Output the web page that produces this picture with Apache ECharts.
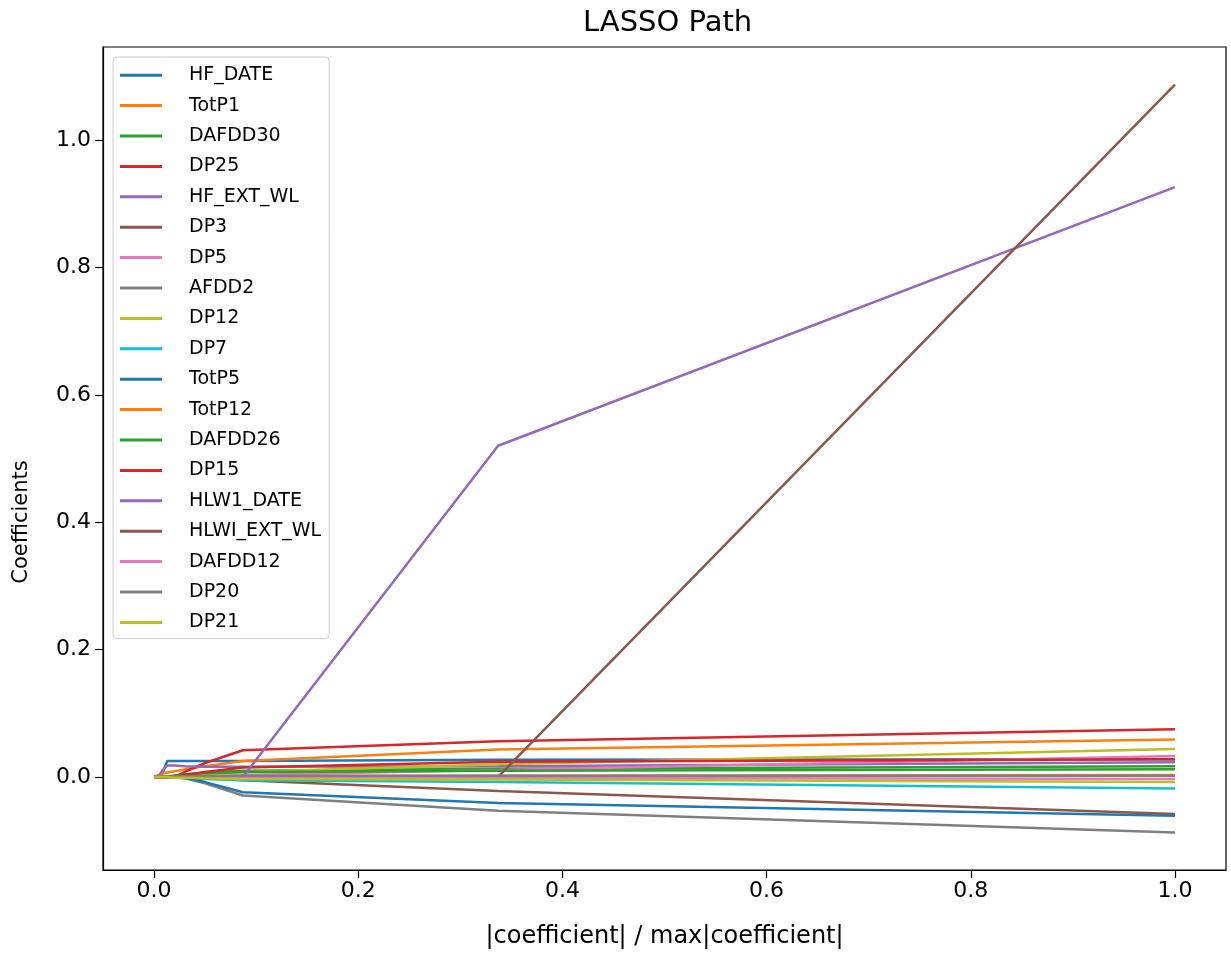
<!DOCTYPE html>
<html>
<head>
<meta charset="utf-8">
<title>LASSO Path</title>
<script src="https://cdn.jsdelivr.net/npm/echarts@6/dist/echarts.min.js"></script>
<style>
  html, body { margin: 0; padding: 0; background: #fff; }
  #chart { width: 1231px; height: 954px; }
</style>
</head>
<body>
<div id="chart"></div>
<script>
// 横轴：|coefficient| / max|coefficient| 的各个拐点
var xs = [0, 0.004, 0.008, 0.013, 0.02, 0.03, 0.05, 0.087, 0.337, 1.0];

var names = ["HF_DATE", "TotP1", "DAFDD30", "DP25", "HF_EXT_WL", "DP3", "DP5", "AFDD2", "DP12", "DP7",
  "TotP5", "TotP12", "DAFDD26", "DP15", "HLW1_DATE", "HLWI_EXT_WL", "DAFDD12", "DP20", "DP21"];

// 每个变量在各拐点处的系数
var HF_DATE = [0, 0, 0.005, 0.025, 0.025, 0.025, 0.025, 0.025, 0.027, 0.028];
var TotP1 = [0, 0.003, 0.005, 0.007, 0.009, 0.012, 0.017, 0.025, 0.043, 0.059];
var DAFDD30 = [0, 0, 0, 0, 0.002, 0.004, 0.007, 0.010, 0.013, 0.017];
var DP25 = [0, 0, 0, 0, 0, 0.008, 0.022, 0.042, 0.056, 0.075];
var HF_EXT_WL = [0, 0, 0.010, 0.018, 0.018, 0.017, 0.016, 0.016, 0.017, 0.023];
var DP3 = [0, 0, 0, 0, 0, 0, -0.001, -0.005, -0.022, -0.058];
var DP5 = [0, 0, 0, 0, 0, 0, 0.001, 0.003, 0.011, 0.033];
var AFDD2 = [0, 0, 0, 0, 0, -0.002, -0.010, -0.029, -0.053, -0.087];
var DP12 = [0, 0, 0, 0, 0, 0.002, 0.004, 0.008, 0.020, 0.044];
var DP7 = [0, 0, 0, 0, -0.001, -0.002, -0.003, -0.005, -0.008, -0.018];
var TotP5 = [0, 0, 0, 0, 0, -0.001, -0.008, -0.024, -0.041, -0.061];
var TotP12 = [0, 0, 0, 0, 0.001, 0.001, 0.001, 0.001, 0.002, 0.003];
var DAFDD26 = [0, 0, 0, 0.001, 0.002, 0.004, 0.006, 0.008, 0.010, 0.012];
var DP15 = [0, 0, 0, 0, 0.001, 0.003, 0.008, 0.015, 0.024, 0.028];
var HLW1_DATE = [0, 0, 0, 0, 0, 0, 0, 0, 0.52, 0.926];
var HLWI_EXT_WL = [0, 0, 0, 0, 0, 0, 0, 0, 0, 1.087];
var DAFDD12 = [0, 0, 0, 0, 0, 0, -0.001, -0.001, -0.001, -0.003];
var DP20 = [0, 0, 0, 0, 0, 0.001, 0.001, 0.002, 0.002, 0.002];
var DP21 = [0, 0, 0, 0, -0.001, -0.001, -0.002, -0.003, -0.004, -0.008];

var coefs = [HF_DATE, TotP1, DAFDD30, DP25, HF_EXT_WL, DP3, DP5, AFDD2, DP12, DP7,
  TotP5, TotP12, DAFDD26, DP15, HLW1_DATE, HLWI_EXT_WL, DAFDD12, DP20, DP21];

var ticks = [0, 0.2, 0.4, 0.6, 0.8, 1.0];

(function () {
  var myChart = echarts.init(document.getElementById("chart"));
  var font = "DejaVu Sans";
  // matplotlib 默认 tab10 配色
  var tab10 = ["#1f77b4", "#ff7f0e", "#2ca02c", "#d62728", "#9467bd",
    "#8c564b", "#e377c2", "#7f7f7f", "#bcbd22", "#17becf"];

  var series = names.map(function (name, i) {
    return {
      name: name,
      type: "line",
      symbol: "none",
      color: tab10[i % 10],
      lineStyle: { width: 2.5 },
      data: xs.map(function (x, j) { return [x, coefs[i][j]]; })
    };
  });

  var option = {
    animation: false,
    backgroundColor: "#fff",
    title: {
      text: "LASSO Path",
      left: 578,
      top: 4,
      textStyle: { fontFamily: font, fontSize: 29, fontWeight: "normal", color: "#000" }
    },
    legend: {
      orient: "vertical",
      left: 113,
      top: 57,
      padding: [3, 8, 1, 7],
      icon: "rect",
      itemWidth: 42,
      itemHeight: 3,
      itemGap: 0,
      backgroundColor: "#fff",
      borderColor: "#cccccc",
      borderWidth: 1,
      borderRadius: 4,
      textStyle: {
        fontFamily: font,
        fontSize: 19,
        color: "#000",
        lineHeight: 30.4,
        padding: [0, 0, 0, 22]
      }
    },
    grid: {
      left: 103,
      right: 5,
      top: 47,
      bottom: 83,
      show: true,
      borderColor: "#000",
      borderWidth: 1.2
    },
    xAxis: {
      type: "value",
      min: -0.05,
      max: 1.05,
      name: "|coefficient| / max|coefficient|",
      nameLocation: "middle",
      nameGap: 55,
      nameTextStyle: { fontFamily: font, fontSize: 24, color: "#000" },
      axisLine: { show: true, onZero: false, lineStyle: { color: "#000", width: 1.2 } },
      axisTick: { show: true, length: 8, customValues: ticks, lineStyle: { color: "#000", width: 1.2 } },
      axisLabel: {
        customValues: ticks,
        fontFamily: font,
        fontSize: 22,
        color: "#000",
        margin: 10,
        formatter: function (v) { return v.toFixed(1); }
      },
      splitLine: { show: false }
    },
    yAxis: {
      type: "value",
      min: -0.146,
      max: 1.146,
      axisLine: { show: true, onZero: false, lineStyle: { color: "#000", width: 1.2 } },
      axisTick: { show: true, length: 8, customValues: ticks, lineStyle: { color: "#000", width: 1.2 } },
      axisLabel: {
        customValues: ticks,
        fontFamily: font,
        fontSize: 22,
        color: "#000",
        margin: 12,
        formatter: function (v) { return v.toFixed(1); }
      },
      splitLine: { show: false }
    },
    graphic: [{
      type: "text",
      x: 22,
      y: 522,
      rotation: Math.PI / 2,
      style: {
        text: "Coefficients",
        fontFamily: font,
        fontSize: 21,
        fill: "#000",
        align: "center",
        verticalAlign: "middle"
      }
    }],
    series: series
  };

  myChart.setOption(option);
  window.addEventListener("resize", function () {
    myChart.resize();
  });
})();
</script>
</body>
</html>
